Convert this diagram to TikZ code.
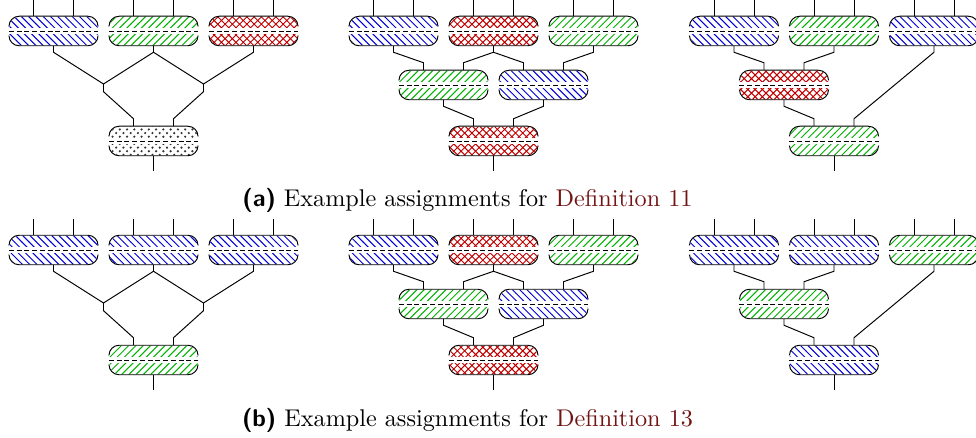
\documentclass[tikz,border=0pt]{standalone}
\usepackage{tikz}
\usetikzlibrary{calc,patterns}

\definecolor{linkred}{rgb}{0.45,0.08,0.08}

\pgfdeclarepatternformonly{diagonal crosshatch}{\pgfqpoint{-1pt}{-1pt}}{\pgfqpoint{4pt}{4pt}}{\pgfqpoint{3pt}{3pt}}%
{
  \pgfsetlinewidth{0.4pt}
  \pgfpathmoveto{\pgfqpoint{0pt}{0pt}}
  \pgfpathlineto{\pgfqpoint{3.1pt}{3.1pt}}
  \pgfpathmoveto{\pgfqpoint{0pt}{3pt}}
  \pgfpathlineto{\pgfqpoint{3.1pt}{-0.1pt}}
  \pgfusepath{stroke}
}

\tikzset{
  blk/.style={rectangle, rounded corners=4.2pt, minimum width=36.4pt,
    minimum height=11.8pt, inner sep=0pt},
  blueblk/.style={blk, pattern=north west lines, pattern color=blue!85!black},
  greenblk/.style={blk, pattern=north east lines, pattern color=green!70!black},
  redblk/.style={blk, pattern=diagonal crosshatch, pattern color=red!75!black},
  dotblk/.style={blk, pattern=crosshatch dots, pattern color=black!80},
  midline/.style={dash pattern=on 2pt off 1.2pt}
}

% box: name, position, colour
\newcommand\blkbox[3]{%
  \node[#3blk] (#1) at (#2) {};
  \fill[white] ($(#1.west)+(-1,-3.2)$) rectangle ($(#1.east)+(1,3.2)$);
  \draw[rounded corners=4.2pt] ($(#1.west)+(0,-5)$) |- (#1.north) -| ($(#1.east)+(0,-5)$);
  \draw[rounded corners=4.2pt] ($(#1.west)+(0,5)$) |- (#1.south) -| ($(#1.east)+(0,5)$);
  \draw[midline] (#1.west) -- (#1.east);
}
\newcommand\inw[1]{%
  \draw ($(#1.north)+(-20,0)$) -- ++(0,-16.5);
  \draw ($(#1.north)+(20,0)$) -- ++(0,-16.5);
}
\newcommand\outw[1]{\draw (#1.south) -- ++(0,15.7);}
\newcommand\wire[3]{\draw (#1.south) -- ++(0,6.5) -- ($(#2.north)+(#3,-7.5)$) -- ++(0,7.5);}

\begin{document}
\begin{tikzpicture}[x=0.4132pt, y=-0.4132pt]
\useasboundingbox (0,0) rectangle (976,438);

% (a) left
\begin{scope}
  \blkbox{a1t1}{53.5,31}{blue}
  \blkbox{a1t2}{153.5,31}{green}
  \blkbox{a1t3}{253.5,31}{red}
  \blkbox{a1r}{153.5,141}{dot}
  \coordinate (a1j1) at (103.5,84);
  \coordinate (a1j2) at (203.5,84);
  \draw (a1t1.south) -- ++(0,6.5) -- (a1j1) -- ++(0,7.7) -- ($(a1r.north)+(-20,-7.5)$) -- ++(0,7.5);
  \draw (a1t2.south) -- ++(0,6.5) -- (a1j1);
  \draw (a1t2.south) -- ++(0,6.5) -- (a1j2) -- ++(0,7.7) -- ($(a1r.north)+(20,-7.5)$) -- ++(0,7.5);
  \draw (a1t3.south) -- ++(0,6.5) -- (a1j2);
  \inw{a1t1} \inw{a1t2} \inw{a1t3} \outw{a1r}
\end{scope}

% (a) middle
\begin{scope}[shift={(340,0)}]
  \blkbox{a2t1}{53.5,31}{blue}
  \blkbox{a2t2}{153.5,31}{red}
  \blkbox{a2t3}{253.5,31}{green}
  \blkbox{a2m1}{103.5,85}{green}
  \blkbox{a2m2}{203.5,85}{blue}
  \blkbox{a2r}{153.5,141}{red}
  \wire{a2t1}{a2m1}{-20} \wire{a2t2}{a2m1}{20}
  \wire{a2t2}{a2m2}{-20} \wire{a2t3}{a2m2}{20}
  \wire{a2m1}{a2r}{-20} \wire{a2m2}{a2r}{20}
  \inw{a2t1} \inw{a2t2} \inw{a2t3} \outw{a2r}
\end{scope}

% (a) right
\begin{scope}[shift={(680.5,0)}]
  \blkbox{a3t1}{53.5,31}{blue}
  \blkbox{a3t2}{153.5,31}{green}
  \blkbox{a3t3}{253.5,31}{blue}
  \blkbox{a3m}{103.5,85}{red}
  \blkbox{a3r}{153.5,141}{green}
  \wire{a3t1}{a3m}{-20} \wire{a3t2}{a3m}{20}
  \wire{a3m}{a3r}{-20} \wire{a3t3}{a3r}{20}
  \inw{a3t1} \inw{a3t2} \inw{a3t3} \outw{a3r}
\end{scope}

\node[anchor=base] (capa) at (467.5,207)
  {{\sffamily\bfseries (a)} Example assignments for \textcolor{linkred}{Definition 11}};

% (b) left
\begin{scope}[shift={(0,219)}]
  \blkbox{b1t1}{53.5,31}{blue}
  \blkbox{b1t2}{153.5,31}{blue}
  \blkbox{b1t3}{253.5,31}{blue}
  \blkbox{b1r}{153.5,141}{green}
  \coordinate (b1j1) at (103.5,84);
  \coordinate (b1j2) at (203.5,84);
  \draw (b1t1.south) -- ++(0,6.5) -- (b1j1) -- ++(0,7.7) -- ($(b1r.north)+(-20,-7.5)$) -- ++(0,7.5);
  \draw (b1t2.south) -- ++(0,6.5) -- (b1j1);
  \draw (b1t2.south) -- ++(0,6.5) -- (b1j2) -- ++(0,7.7) -- ($(b1r.north)+(20,-7.5)$) -- ++(0,7.5);
  \draw (b1t3.south) -- ++(0,6.5) -- (b1j2);
  \inw{b1t1} \inw{b1t2} \inw{b1t3} \outw{b1r}
\end{scope}

% (b) middle
\begin{scope}[shift={(340,219)}]
  \blkbox{b2t1}{53.5,31}{blue}
  \blkbox{b2t2}{153.5,31}{red}
  \blkbox{b2t3}{253.5,31}{green}
  \blkbox{b2m1}{103.5,85}{green}
  \blkbox{b2m2}{203.5,85}{blue}
  \blkbox{b2r}{153.5,141}{red}
  \wire{b2t1}{b2m1}{-20} \wire{b2t2}{b2m1}{20}
  \wire{b2t2}{b2m2}{-20} \wire{b2t3}{b2m2}{20}
  \wire{b2m1}{b2r}{-20} \wire{b2m2}{b2r}{20}
  \inw{b2t1} \inw{b2t2} \inw{b2t3} \outw{b2r}
\end{scope}

% (b) right
\begin{scope}[shift={(680.5,219)}]
  \blkbox{b3t1}{53.5,31}{blue}
  \blkbox{b3t2}{153.5,31}{blue}
  \blkbox{b3t3}{253.5,31}{green}
  \blkbox{b3m}{103.5,85}{green}
  \blkbox{b3r}{153.5,141}{blue}
  \wire{b3t1}{b3m}{-20} \wire{b3t2}{b3m}{20}
  \wire{b3m}{b3r}{-20} \wire{b3t3}{b3r}{20}
  \inw{b3t1} \inw{b3t2} \inw{b3t3} \outw{b3r}
\end{scope}

\node[anchor=base] (capb) at (467.5,426)
  {{\sffamily\bfseries (b)} Example assignments for \textcolor{linkred}{Definition 13}};
\end{tikzpicture}
\end{document}
